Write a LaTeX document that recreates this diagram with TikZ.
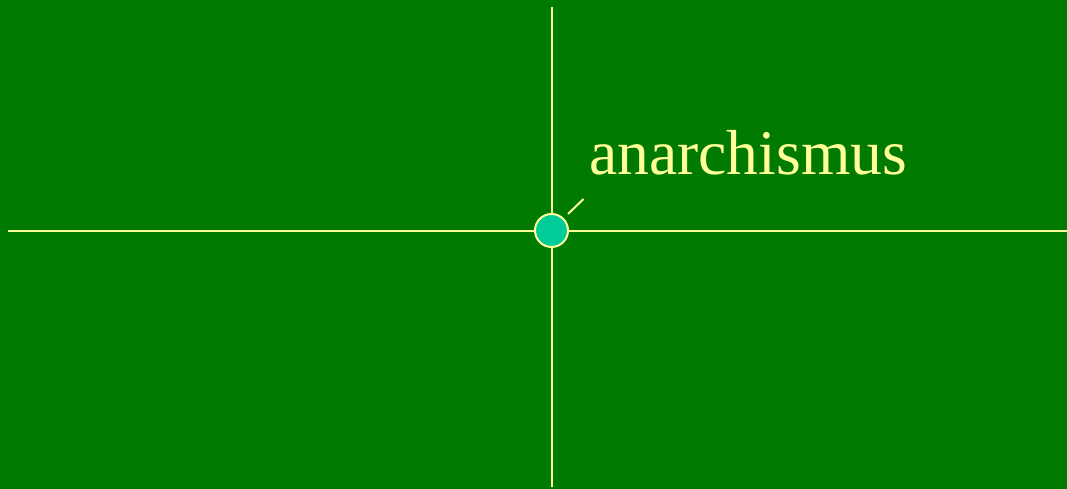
\documentclass[tikz,border=0pt]{standalone}
\usepackage{fontspec}
\setmainfont{Liberation Serif}
\definecolor{bggreen}{RGB}{0,122,0}
\definecolor{paleyellow}{RGB}{255,255,153}
\definecolor{teal}{RGB}{0,204,153}
\begin{document}
\begin{tikzpicture}[x=1pt,y=1pt,
  axis/.style={draw=paleyellow,line width=2pt},
  dot/.style={circle,draw=paleyellow,fill=teal,line width=2pt,minimum size=33pt,inner sep=0pt},
  lbl/.style={text=paleyellow,font=\fontsize{63.6}{70}\selectfont,inner sep=0pt,anchor=base west}]
\fill[bggreen] (0,0) rectangle (1067,489);
\useasboundingbox (0,0) rectangle (1067,489);
\coordinate (hl) at (8,258);
\coordinate (hr) at (1067,258);
\coordinate (vt) at (551.5,482);
\coordinate (vb) at (551.5,2);
\draw[axis] (hl) -- (hr);
\draw[axis] (vt) -- (vb);
\node[dot] (c) at (551.5,258.5) {};
\node[lbl] (t) at (589,314) {anarchismus};
\coordinate (p1) at (568,275);
\coordinate (p2) at (583.5,290);
\draw[axis] (p1) -- (p2);
\end{tikzpicture}
\end{document}
